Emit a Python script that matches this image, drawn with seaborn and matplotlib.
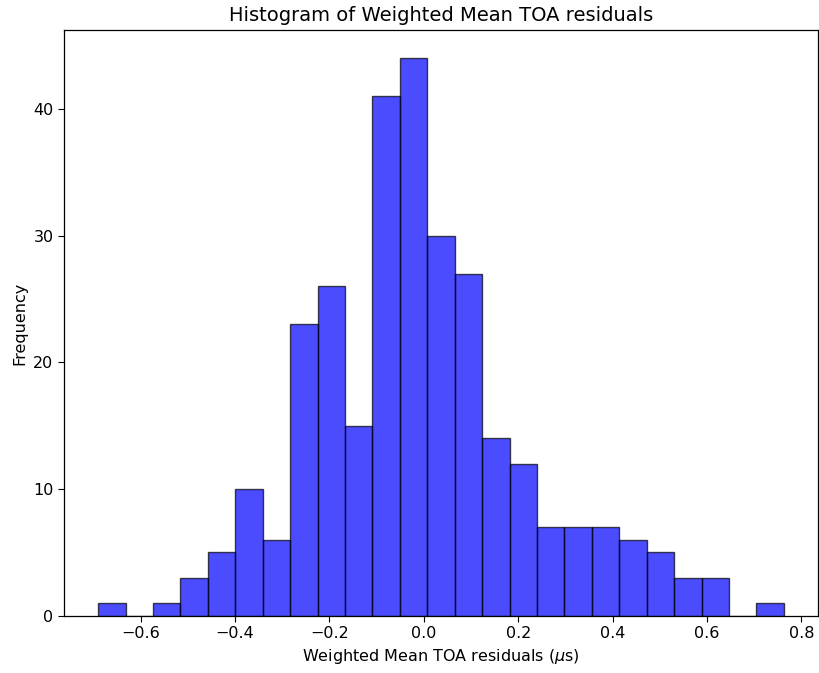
import matplotlib
matplotlib.use("Agg")
import matplotlib.pyplot as plt
import seaborn as sns
import numpy as np

# Bin centers (µs) and counts
bin_centers = [-0.6609, -0.6028, -0.5447, -0.4866, -0.4284, -0.3703, -0.3122,
               -0.2541, -0.1960, -0.1378, -0.0797, -0.0216, 0.0365, 0.0946,
               0.1528, 0.2109, 0.2690, 0.3271, 0.3852, 0.4434, 0.5015,
               0.5596, 0.6177, 0.6758, 0.7340]
counts = [1, 0, 1, 3, 5, 10, 6, 23, 26, 15, 41, 44, 30, 27, 14, 12,
          7, 7, 7, 6, 5, 3, 3, 0, 1]
data_min, data_max = -0.690, 0.763
n_bins = 25

fig = plt.figure(figsize=(8.19, 6.73), dpi=100)
ax = fig.add_axes([0.078, 0.085, 0.921, 0.87])

sns.histplot(x=bin_centers, weights=counts, bins=n_bins,
             binrange=(data_min, data_max), color="blue", alpha=0.7,
             edgecolor=(0, 0, 0, 0.7), linewidth=1.0, ax=ax)

ax.set_title("Histogram of Weighted Mean TOA residuals", fontsize=14, pad=7)
ax.set_xlabel(r"Weighted Mean TOA residuals ($\mu$s)", fontsize=11.5)
ax.set_ylabel("Frequency", fontsize=11.5)
ax.tick_params(labelsize=11.5, length=4)
for s in ax.spines.values():
    s.set_linewidth(0.9)

fig.savefig("out.png", dpi=100)
